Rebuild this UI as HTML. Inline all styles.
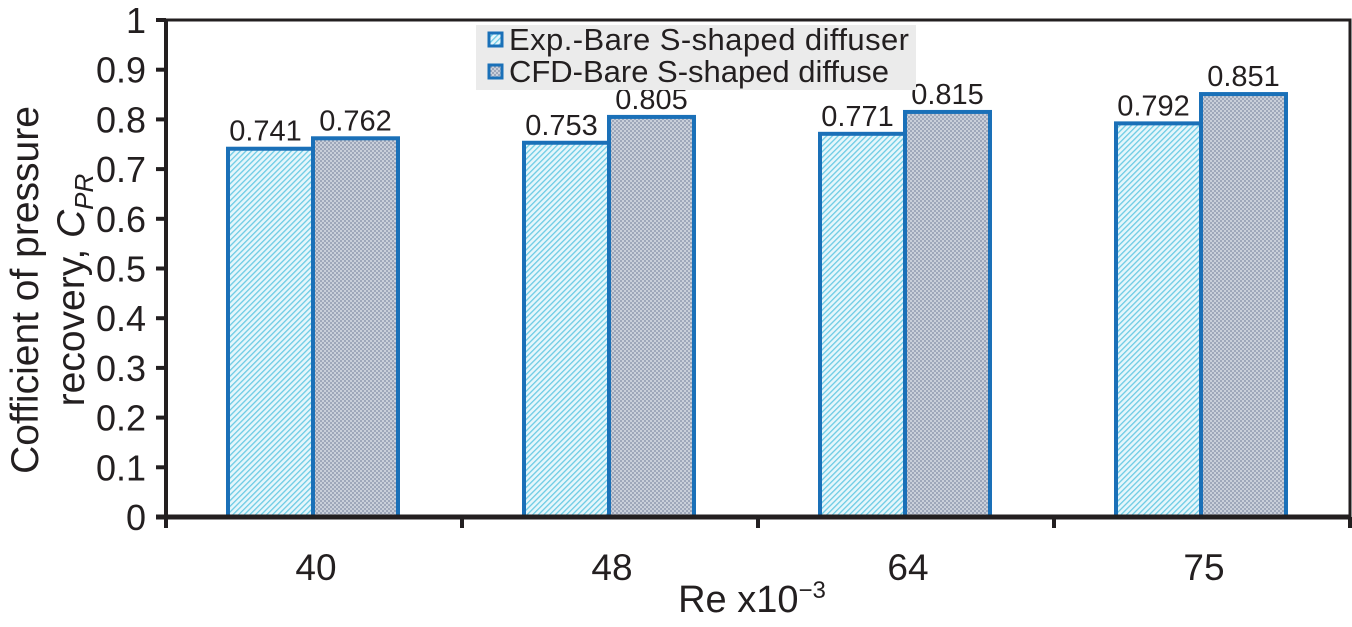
<!DOCTYPE html>
<html><head><meta charset="utf-8"><style>
body{margin:0;background:#fff}
svg text{font-family:"Liberation Sans",Arial,sans-serif;fill:#231f20}
</style></head><body>
<svg width="1352" height="622" viewBox="0 0 1352 622" xmlns="http://www.w3.org/2000/svg">
<defs>
<pattern id="hatch" width="4" height="4" patternUnits="userSpaceOnUse" patternTransform="rotate(45)">
<rect width="4" height="4" fill="#e6f6fb"/><rect width="1.3" height="4" fill="#6ccbe4"/>
</pattern>
<pattern id="dots" width="4" height="4" patternUnits="userSpaceOnUse">
<rect width="4" height="4" fill="#c9cfda"/><circle cx="1" cy="1" r="0.9" fill="#7f8aa3"/><circle cx="3" cy="3" r="0.9" fill="#7f8aa3"/>
</pattern>
</defs>
<g id="chart"></g>
</svg>
<script>
const categories=["40","48","64","75"];
const expValues=[0.741,0.753,0.771,0.792];
const cfdValues=[0.762,0.805,0.815,0.851];
const yTicks=[0,0.1,0.2,0.3,0.4,0.5,0.6,0.7,0.8,0.9,1];
const yTickLabels=["0","0.1","0.2","0.3","0.4","0.5","0.6","0.7","0.8","0.9","1"];
const NS="http://www.w3.org/2000/svg";
const g=document.getElementById('chart');
const X0=166,X1=1350,Y0=517,Y1=20;
const y=v=>Y0-v*(Y0-Y1);
const catW=(X1-X0)/categories.length;
const xc=i=>X0+catW*(i+0.5);
function mk(t,a,p){const e=document.createElementNS(NS,t);for(const k in a)e.setAttribute(k,a[k]);(p||g).appendChild(e);return e;}
let e;
e=mk('path',{d:`M${X0} ${Y1}H${X1}V${Y0}`,fill:'none',stroke:'#231f20','stroke-width':3});


const bw=85;
categories.forEach((c,i)=>{
 const cx=xc(i);
 e=mk('rect',{x:cx-bw-1,y:y(expValues[i]),width:bw,height:Y0-y(expValues[i]),fill:'url(#hatch)',stroke:'#1a70b8','stroke-width':4});
 
 
 e=mk('rect',{x:cx-1,y:y(cfdValues[i]),width:bw,height:Y0-y(cfdValues[i]),fill:'url(#dots)',stroke:'#1a70b8','stroke-width':4});
 
 
 e=mk('text',{x:cx-bw/2-6,y:y(expValues[i])-8,'font-size':29,'text-anchor':'middle'});e.textContent=expValues[i].toFixed(3);
 
 
 e=mk('text',{x:cx+bw/2-1,y:y(cfdValues[i])-8,'font-size':29,'text-anchor':'middle'});e.textContent=cfdValues[i].toFixed(3);
 
 
 e=mk('text',{x:cx+2,y:580,'font-size':37,'text-anchor':'middle'});e.textContent=c;
 
 
});
for(let i=0;i<=categories.length;i++){
 e=mk('line',{x1:X0+catW*i,x2:X0+catW*i,y1:Y0,y2:Y0+11,stroke:'#231f20','stroke-width':4});
 
 
}
e=mk('line',{x1:X0-10,x2:X1,y1:Y0,y2:Y0,stroke:'#231f20','stroke-width':5});


e=mk('line',{x1:X0,x2:X0,y1:Y1,y2:Y0+11,stroke:'#231f20','stroke-width':4});


yTicks.forEach((t,i)=>{
 e=mk('line',{x1:X0-10,x2:X0,y1:y(t),y2:y(t),stroke:'#231f20','stroke-width':4});
 
 
 e=mk('text',{x:X0-20,y:y(t)+13,'font-size':36,'text-anchor':'end'});e.textContent=yTickLabels[i];
 
 
});
e=mk('text',{x:752,y:612,'font-size':38,'text-anchor':'middle'});
e.innerHTML='Re x10<tspan dy="-14" font-size="24">−3</tspan>';


e=mk('text',{transform:'translate(38,290) rotate(-90)','font-size':39,'text-anchor':'middle'});e.textContent='Cofficient of pressure';


e=mk('text',{transform:'translate(84,290) rotate(-90)','font-size':39,'text-anchor':'middle'});
e.innerHTML='recovery, <tspan font-style="italic">C</tspan><tspan font-style="italic" font-size="26" dy="9">PR</tspan>';


const lg=mk('g',{});


mk('rect',{x:476,y:25,width:440,height:65,fill:'#ebebeb'},lg);
[['url(#hatch)','Exp.-Bare S-shaped diffuser',50],['url(#dots)','CFD-Bare S-shaped diffuse',82]].forEach((d,i)=>{
 e=mk('rect',{x:489,y:d[2]-17,width:13,height:13,fill:d[0],stroke:'#1a70b8','stroke-width':3},lg);
 
 
 e=mk('text',{x:509,y:d[2],'font-size':31,textLength:d[1].length>26?400:380},lg);e.textContent=d[1];
 
 
});
</script>
</body></html>
